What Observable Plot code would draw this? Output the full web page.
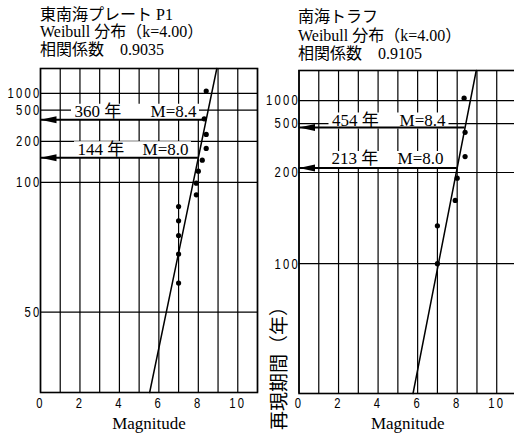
<!DOCTYPE html>
<html><head><meta charset="utf-8">
<script src="https://cdn.jsdelivr.net/npm/d3@7"></script>
<script src="https://cdn.jsdelivr.net/npm/@observablehq/plot@0.6"></script>
<style>
body{margin:0;background:#fff;}
#root{position:relative;width:514px;height:433px;overflow:hidden;background:#fff;}
.title{position:absolute;font-family:"Liberation Serif","Noto Sans CJK JP",serif;font-size:16px;color:#000;white-space:pre;}
.panel{position:absolute;top:62px;}
</style></head><body>
<div id="root">
 <div class="title" id="t1" style="left:40px;top:6px;line-height:17.3px"></div>
 <div class="title" id="t2" style="left:298px;top:8px;line-height:18.5px"></div>
 <div class="panel" id="p1" style="left:0px"></div>
 <div class="panel" id="p2" style="left:258px"></div>
</div>
<script>
// ---- data ----
const xTickLabels = [0, 2, 4, 6, 8, 10];
const xGridLines = [0, 1, 2, 3, 4, 5, 6, 7, 8, 9, 10, 11];

// 東南海プレート P1
const leftTitle = ["東南海プレート P1", "Weibull 分布（k=4.00）", "相関係数　0.9035"];
const leftMag = [8.4, 8.3, 8.4, 8.4, 8.2, 8.0, 7.9, 7.9, 7.0, 7.0, 7.0, 7.0, 7.0];
const leftPeriod = [1120, 370, 237, 172, 138, 116, 99, 87, 78, 70, 64, 58.6, 53.2];
const leftYTicks = [50, 100, 200, 500, 1000];
const leftAnnotPeriod = [360, 144];
const leftAnnotMag = [8.4, 8.0];
const leftT0 = 44.7;
const leftPeriodRange = [46.2, 4190];

// 南海トラフ
const rightTitle = ["南海トラフ", "Weibull 分布（k=4.00）", "相関係数　0.9105"];
const rightMag = [8.35, 8.4, 8.4, 8.0, 7.9, 7.0, 7.0];
const rightPeriod = [1090, 405, 253, 186, 147, 121, 100];
const rightYTicks = [100, 200, 500, 1000];
const rightAnnotPeriod = [454, 213];
const rightAnnotMag = [8.4, 8.0];
const rightT0 = 75.2;
const rightPeriodRange = [79, 3660];

const yAxisLabel = "再現期間（年）";
const xAxisLabel = "Magnitude";

// ---- styles ----
const serif = '"Liberation Serif","Noto Sans CJK JP",serif';
const tickFont = '"Liberation Sans",Arial,sans-serif';
const arrowHead = {draw(ctx){ctx.moveTo(0,0);ctx.lineTo(16,-3.5);ctx.lineTo(16,3.5);ctx.closePath();}};

// horizontally condense tick labels (the reference uses a narrow face)
function condense(svg, selector, k, spacing){
  d3.select(svg).selectAll(selector).each(function(){
    const t = this;
    const xa = t.getAttribute("x");
    if (xa != null && !isNaN(+xa)) t.setAttribute("x", (+xa) / k);
    const tr = t.getAttribute("transform") || "";
    t.setAttribute("transform", `${tr} scale(${k},1)`);
    t.style.letterSpacing = spacing + "px";
    t.setAttribute("fill", "#000");
  });
}

function makePanel(cfg){
  const g = T => Math.log(Math.log(T / cfg.t0)); // Weibull probability scale
  const pts = cfg.mag.map((m,i)=>({M:m, v:g(cfg.period[i])}));
  const annots = cfg.annotPeriod.map((T,i)=>({T, M:cfg.annotMag[i], v:g(T)}));
  const slope = (annots[0].M - annots[1].M)/(annots[0].v - annots[1].v);
  const mAt = v => annots[1].M + slope*(v - annots[1].v);
  const vDom = cfg.periodRange.map(g);
  const fit = vDom.map(v=>({M:mAt(v), v}));
  const tickV = cfg.yTicks.map(g);
  const tickLabel = new Map(cfg.yTicks.map((t,i)=>[tickV[i], String(t)]));
  const fw = cfg.width - cfg.marginLeft;
  const marks = [
    Plot.ruleX(xGridLines, {stroke:"#000", strokeWidth:1.2}),
    Plot.ruleY(tickV, {stroke:"#000", strokeWidth:1.2}),
    Plot.frame({stroke:"#000", strokeWidth:1.6})
  ];
  annots.forEach((a,i)=>{
    const s = cfg.annotStyle[i];
    marks.push(Plot.ruleY([a], {y:"v", dy:s.dy, insetLeft:s.boxL, insetRight:fw - s.boxR, stroke:"#fff", strokeWidth:16}));
    marks.push(Plot.text([a], {y:"v", frameAnchor:"left", dx:s.textL, dy:s.dy, text:d=>`${d.T} 年`, textAnchor:"start", lineAnchor:"middle", fontSize:17, fontFamily:serif, fill:"#000", ariaLabel:"annot"}));
    marks.push(Plot.text([a], {y:"v", frameAnchor:"left", dx:s.textR, dy:s.dy, text:d=>`M=${d.M.toFixed(1)}`, textAnchor:"end", lineAnchor:"middle", fontSize:17, fontFamily:serif, fill:"#000", ariaLabel:"annot"}));
  });
  marks.push(Plot.ruleY(annots, {y:"v", x1:d=>0, x2:"M", stroke:"#000", strokeWidth:2}));
  marks.push(Plot.dot(annots, {x:d=>0, y:"v", symbol:arrowHead, fill:"#000", stroke:"none"}));
  marks.push(Plot.line(fit, {x:"M", y:"v", stroke:"#000", strokeWidth:1.5}));
  marks.push(Plot.dot(pts, {x:"M", y:"v", r:2.6, fill:"#000", stroke:"none"}));
  marks.push(Plot.text([xAxisLabel], {text:d=>d, frameAnchor:"bottom", dy:cfg.magDy, fontSize:17, fontFamily:serif, lineAnchor:"middle", fill:"#000", ariaLabel:"xlabel"}));
  if (cfg.yLabel) marks.push(Plot.text([cfg.yLabel], {text:d=>d, frameAnchor:"bottom-left", dx:-19.5, dy:-30, rotate:-90, fontSize:19, fontFamily:'"Noto Sans CJK JP",sans-serif', lineAnchor:"middle", textAnchor:"middle", fill:"#000", ariaLabel:"ylabel"}));
  const svg = Plot.plot({
    width:cfg.width, height:cfg.height,
    marginLeft:cfg.marginLeft, marginRight:0, marginTop:cfg.marginTop, marginBottom:cfg.marginBottom,
    style:{fontFamily:tickFont, fontSize:"15px", background:"transparent", maxWidth:"none", overflow:"visible", color:"#000"},
    x:{domain:[0,11], ticks:xTickLabels, tickSize:0, tickPadding:cfg.xPad, label:null},
    y:{domain:vDom, ticks:tickV, tickFormat:d=>tickLabel.get(d), tickSize:0, tickPadding:-1, label:null},
    marks
  });
  condense(svg, 'g[aria-label^="y-axis"] text, g[aria-label^="x-axis"] text', 0.75, 3);
  d3.select(svg).selectAll('g[aria-label="annot"] text').style("letter-spacing","0.8px");
  return svg;
}

document.getElementById("t1").textContent = leftTitle.join("\n");
document.getElementById("t2").textContent = rightTitle.join("\n");

document.getElementById("p1").appendChild(makePanel({
  mag:leftMag, period:leftPeriod, yTicks:leftYTicks, annotPeriod:leftAnnotPeriod, annotMag:leftAnnotMag,
  t0:leftT0, periodRange:leftPeriodRange,
  width:257, height:371, marginLeft:40, marginTop:6, marginBottom:41, magDy:31, xPad:5,
  annotStyle:[{dy:-8, textL:34, textR:156, boxL:31, boxR:159},{dy:-8.5, textL:37, textR:148, boxL:34, boxR:151}]
}));
document.getElementById("p2").appendChild(makePanel({
  mag:rightMag, period:rightPeriod, yTicks:rightYTicks, annotPeriod:rightAnnotPeriod, annotMag:rightAnnotMag,
  t0:rightT0, periodRange:rightPeriodRange,
  width:258, height:371, marginLeft:40.5, marginTop:8, marginBottom:40, magDy:30, xPad:4,
  yLabel:yAxisLabel,
  annotStyle:[{dy:-7, textL:33, textR:146.5, boxL:30, boxR:150},{dy:-9, textL:32.5, textR:144.5, boxL:30, boxR:148}]
}));
</script>
</body></html>
